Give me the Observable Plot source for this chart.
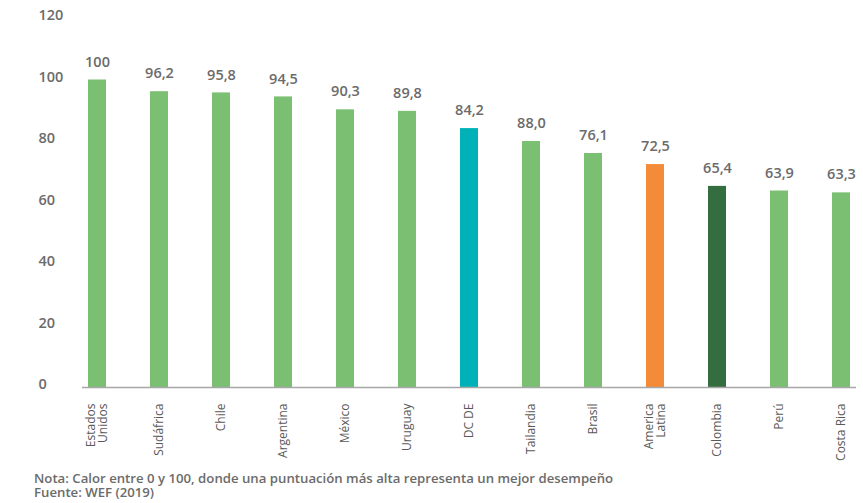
<!DOCTYPE html>
<html>
<head>
<meta charset="utf-8">
<script src="https://cdn.jsdelivr.net/npm/d3@7"></script>
<script src="https://cdn.jsdelivr.net/npm/@observablehq/plot@0.6"></script>
<style>
  html, body { margin: 0; padding: 0; background: #fff; }
  #chart svg { display: block; }
  .notes { padding-left: 34px; margin-top: 4px; }
  .notes div { font-family: "Open Sans", sans-serif; font-weight: 600; font-size: 13.2px; line-height: 14px; height: 14px; color: #6b6b6b; white-space: nowrap; }
</style>
</head>
<body>
<div id="chart"></div>
<div class="notes">
  <div>Nota: Calor entre 0 y 100, donde una puntuación más alta representa un mejor desempeño</div>
  <div>Fuente: WEF (2019)</div>
</div>
<script>
const categories = ["Estados\nUnidos", "Sudáfrica", "Chile", "Argentina", "México", "Uruguay", "DC DE", "Tailandia", "Brasil", "America\nLatina", "Colombia", "Perú", "Costa Rica"];
const values = [100, 96.2, 95.8, 94.5, 90.3, 89.8, 84.2, 80.0, 76.1, 72.5, 65.4, 63.9, 63.3];
const valueLabels = ["100", "96,2", "95,8", "94,5", "90,3", "89,8", "84,2", "88,0", "76,1", "72,5", "65,4", "63,9", "63,3"];
const groups = ["pais", "pais", "pais", "pais", "pais", "pais", "dcde", "pais", "pais", "al", "col", "pais", "pais"];
const yTicks = [0, 20, 40, 60, 80, 100, 120];

const data = categories.map((c, i) => ({category: c, value: values[i], label: valueLabels[i], group: groups[i]}));

const chart = Plot.plot({
  width: 863,
  height: 467,
  marginLeft: 82,
  marginRight: 7,
  marginTop: 18,
  marginBottom: 80,
  style: {fontFamily: "Open Sans, sans-serif", background: "#fff"},
  x: {domain: categories, paddingInner: 0.714, paddingOuter: 0, label: null},
  y: {domain: [0, 120], label: null},
  color: {domain: ["pais", "dcde", "al", "col"], range: ["#7bbf73", "#00b2b8", "#f38b39", "#346e40"]},
  marks: [
    Plot.barY(data, {x: "category", y: "value", fill: "group"}),
    Plot.ruleY([0], {stroke: "#a6a6a6", strokeWidth: 1.5}),
    Plot.text(data, {x: "category", y: "value", text: "label", dy: -18, fontSize: 14.5, fontWeight: 600, fill: "#6b6b6b"}),
    Plot.axisY({ticks: yTicks, tickSize: 0, tickPadding: 0, textAnchor: "start", dx: -44, dy: -3, fontSize: 14.5, fontWeight: 600, fill: "#6b6b6b", label: null}),
    Plot.axisX({tickRotate: -90, tickSize: 0, tickPadding: 16, fontSize: 12, fill: "#595959", label: null, lineHeight: 1.0})
  ]
});
document.getElementById("chart").appendChild(chart);
</script>
</body>
</html>
